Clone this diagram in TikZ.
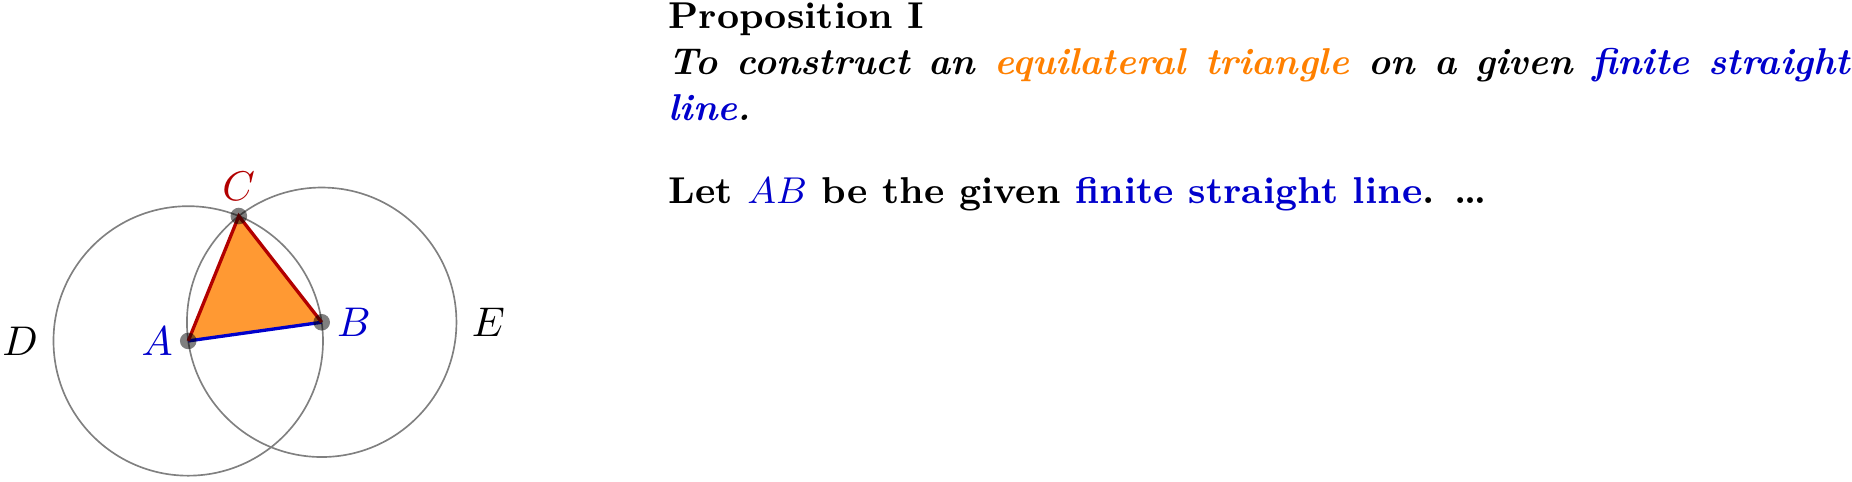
\documentclass[tikz,border=0pt]{standalone}
\usetikzlibrary{calc,through}
\colorlet{input}{blue!80!black}
\colorlet{output}{red!70!black}
\colorlet{triangle}{orange}
\begin{document}
\begin{tikzpicture}[thick,
  helpline/.style={thin,draw=black!50},
  ptdot/.style={black,opacity=.5},
  prop/.style={anchor=base west,inner sep=0pt,text width=10cm,align=justify,font=\small\bfseries}]
\useasboundingbox (0,0) rectangle (15.682,4.081);
\coordinate [label=left:\textcolor{input}{$A$}] (A) at (1.594,1.194);
\coordinate [label=right:\textcolor{input}{$B$}] (B) at (2.724,1.352);
\coordinate [label=above:\textcolor{output}{$C$}] (C) at ($(A)!1!60:(B)$);
\fill[triangle!80] (A) -- (C) -- (B) -- cycle;
\node [helpline,draw,label=left:$D$] (D) at (A) [circle through=(B)] {};
\node [helpline,draw,label=right:$E$] (E) at (B) [circle through=(A)] {};
\draw [input] (A) -- (B);
\draw [output] (A) -- (C) -- (B);
\foreach \point in {A,B,C}
  \fill [ptdot] (\point) circle (2pt);
\node [prop] (txt) at (5.648,3.836) {Proposition I\par
\emph{To construct an \textcolor{triangle}{equilateral triangle}
on a given \textcolor{input}{finite straight line}.}
\par\vskip1em
Let \textcolor{input}{$A$}\textcolor{input}{$B$}\ be the given \textcolor{input}{finite straight line}. \dots};
\end{tikzpicture}
\end{document}
